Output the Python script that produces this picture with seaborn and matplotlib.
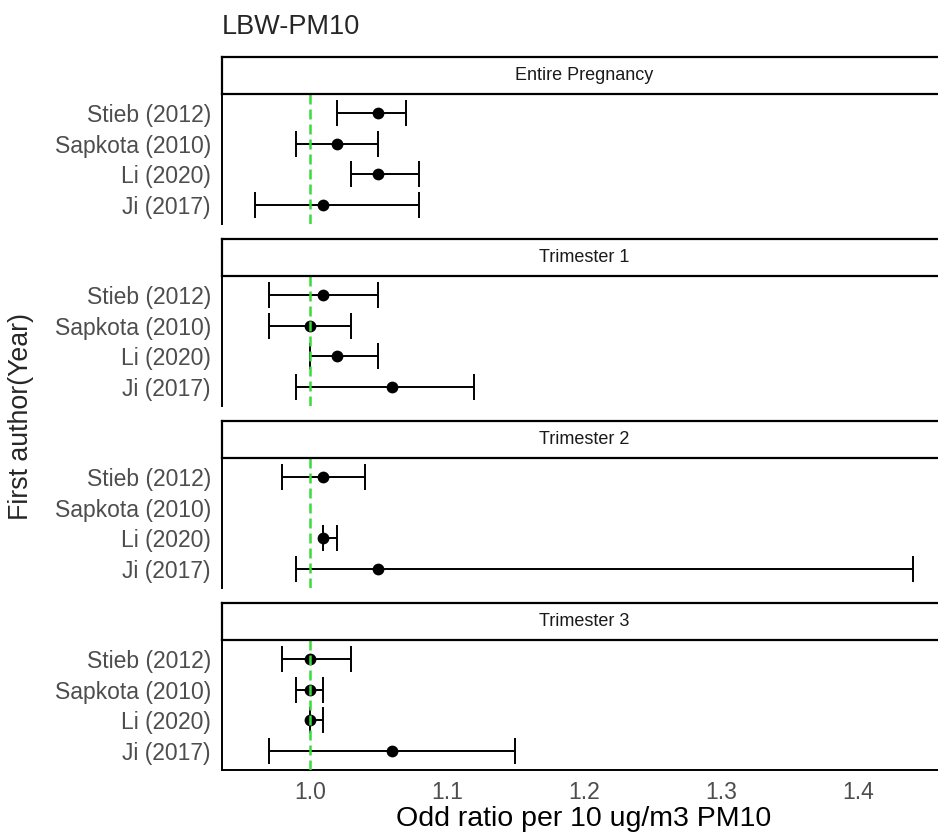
import numpy as np
import pandas as pd
import matplotlib
matplotlib.use('Agg')
import matplotlib.pyplot as plt
import seaborn as sns

sns.set_style('white')
plt.rcParams['font.family'] = ['Liberation Sans', 'DejaVu Sans']

# Studies (top to bottom) and exposure windows (facets)
authors = ['Stieb (2012)', 'Sapkota (2010)', 'Li (2020)', 'Ji (2017)']
periods = ['Entire Pregnancy', 'Trimester 1', 'Trimester 2', 'Trimester 3']

# Odds ratio and 95% CI per period, in author order (nan = not reported)
or_entire = [1.05, 1.02, 1.05, 1.01]
lo_entire = [1.02, 0.99, 1.03, 0.96]
hi_entire = [1.07, 1.05, 1.08, 1.08]

or_t1 = [1.01, 1.00, 1.02, 1.06]
lo_t1 = [0.97, 0.97, 1.00, 0.99]
hi_t1 = [1.05, 1.03, 1.05, 1.12]

or_t2 = [1.01, np.nan, 1.01, 1.05]
lo_t2 = [0.98, np.nan, 1.01, 0.99]
hi_t2 = [1.04, np.nan, 1.02, 1.44]

or_t3 = [1.00, 1.00, 1.00, 1.06]
lo_t3 = [0.98, 0.99, 1.00, 0.97]
hi_t3 = [1.03, 1.01, 1.01, 1.15]

rows = []
for p, o, l, h in zip(periods,
                      [or_entire, or_t1, or_t2, or_t3],
                      [lo_entire, lo_t1, lo_t2, lo_t3],
                      [hi_entire, hi_t1, hi_t2, hi_t3]):
    for k, a in enumerate(authors):
        rows.append([p, a, k, o[k], l[k], h[k]])
df = pd.DataFrame(rows, columns=['period', 'author', 'ypos', 'OR', 'lo', 'hi'])

W, H = 938, 832
fig = plt.figure(figsize=(W / 100, H / 100), dpi=100)


def box(x0, y0, x1, y1):
    """Pixel box (top-left origin) to figure fraction rect."""
    return [x0 / W, 1 - y1 / H, (x1 - x0) / W, (y1 - y0) / H]


green = '#3ADB3A'
left, right = 222, 946
for i, p in enumerate(periods):
    top = 57 + 182 * i

    ax = fig.add_axes(box(left, top + 37, right, top + 167))
    ax.patch.set_alpha(0)
    sub = df[df['period'] == p].dropna()
    ax.errorbar(sub['OR'], sub['ypos'],
                xerr=[sub['OR'] - sub['lo'], sub['hi'] - sub['OR']],
                fmt='none', ecolor='black', elinewidth=1.4,
                capsize=9.5, capthick=1.4, zorder=2)
    sns.scatterplot(data=sub, x='OR', y='ypos', color='black', s=72,
                    edgecolor='black', linewidth=0, ax=ax, zorder=3,
                    legend=False)
    ax.axvline(1.0, color=green, lw=1.8, ls=(0, (4, 2)), zorder=4)

    ax.set_xlim(0.936, 1.464)
    ax.set_ylim(3.6, -0.6)
    ax.set_yticks(range(len(authors)))
    ax.set_yticklabels(authors)
    ax.set_xticks([1.0, 1.1, 1.2, 1.3, 1.4])
    ax.set_xlabel('')
    ax.set_ylabel('')
    ax.tick_params(axis='both', labelsize=16.5, labelcolor='#4D4D4D',
                   length=5, width=1, color='#333333', pad=3)
    for s in ['top', 'right']:
        ax.spines[s].set_visible(False)
    ax.spines['left'].set_linewidth(1.4)
    ax.spines['left'].set_color('black')
    if i < len(periods) - 1:
        ax.spines['bottom'].set_visible(False)
        ax.tick_params(axis='x', bottom=False, labelbottom=False)
    else:
        ax.spines['bottom'].set_linewidth(1.4)
        ax.spines['bottom'].set_color('black')
        ax.set_xticklabels(['1.0', '1.1', '1.2', '1.3', '1.4'])
        ax.set_xlabel('Odd ratio per 10 ug/m3 PM10', fontsize=20.5,
                      color='black', labelpad=1)

    # facet strip, drawn after the panel so its border stays on top
    sax = fig.add_axes(box(left, top, right, top + 37))
    sax.set_xticks([])
    sax.set_yticks([])
    for s in sax.spines.values():
        s.set_linewidth(1.6)
        s.set_color('black')
    sax.text(0.5, 0.5, p, ha='center', va='center', fontsize=13,
             color='#1A1A1A', transform=sax.transAxes)

fig.text(left / W, 1 - 27 / H, 'LBW-PM10', fontsize=19.5, ha='left',
         va='center')
fig.text(21 / W, 1 - 417 / H, 'First author(Year)', fontsize=19.3,
         rotation=90, ha='center', va='center')

fig.savefig('out.png', dpi=100)
